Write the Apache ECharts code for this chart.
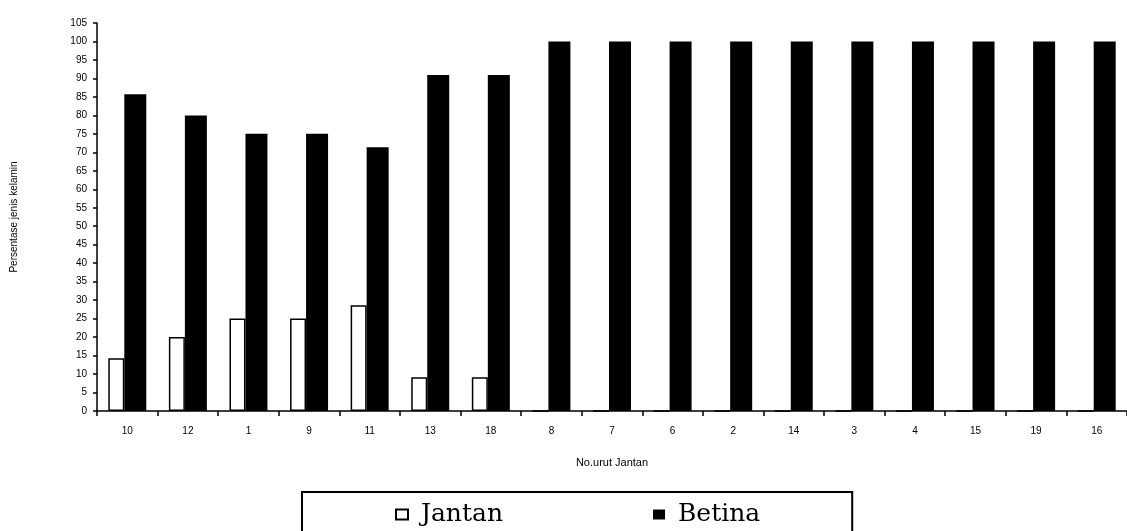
<!DOCTYPE html>
<html>
<head>
<meta charset="utf-8">
<script src="https://cdn.jsdelivr.net/npm/echarts@6/dist/echarts.min.js"></script>
<style>
  html, body { margin: 0; padding: 0; background: #fff; }
  #chart { width: 1127px; height: 531px; }
</style>
</head>
<body>
<div id="chart"></div>
<script>
// No. urut jantan (x axis order as in the figure)
const categories = ["10", "12", "1", "9", "11", "13", "18", "8", "7", "6", "2", "14", "3", "4", "15", "19", "16"];
// percentages
const jantan = [14.3, 20, 25, 25, 28.6, 9.1, 9.1, 0, 0, 0, 0, 0, 0, 0, 0, 0, 0];
const betina = [85.7, 80, 75, 75, 71.4, 90.9, 90.9, 100, 100, 100, 100, 100, 100, 100, 100, 100, 100];
const yMax = 105;
const yStep = 5;

const axisFont = "Liberation Sans";

const option = {
  backgroundColor: "#fff",
  animation: false,
  grid: {
    left: 97,
    right: -4,
    top: 23,
    bottom: 120,
  },
  legend: {
    left: 302,
    top: 492,
    orient: "horizontal",
    padding: [10, 92, 20, 93],
    borderColor: "#000",
    borderWidth: 2,
    itemGap: 150,
    itemWidth: 12,
    itemHeight: 10,
    icon: "rect",
    formatter: (name) => " " + name,
    textStyle: {
      fontFamily: "DejaVu Serif",
      fontSize: 25,
      color: "#000",
    },
    data: ["Jantan", "Betina"],
  },
  xAxis: {
    type: "category",
    data: categories,
    name: "No.urut Jantan",
    nameLocation: "middle",
    nameGap: 46,
    nameTextStyle: { fontFamily: axisFont, fontSize: 11, color: "#000" },
    axisLine: { lineStyle: { color: "#000", width: 1.5 } },
    axisTick: { show: true, length: 5, lineStyle: { color: "#000", width: 1.5 } },
    axisLabel: { fontFamily: axisFont, fontSize: 10, color: "#000", margin: 15 },
    splitLine: { show: false },
  },
  yAxis: {
    type: "value",
    min: 0,
    max: yMax,
    interval: yStep,
    name: "Persentase jenis kelamin",
    nameLocation: "middle",
    nameGap: 78,
    nameTextStyle: { fontFamily: axisFont, fontSize: 10, color: "#000" },
    axisLine: { show: true, lineStyle: { color: "#000", width: 1.5 } },
    axisTick: { show: true, length: 4, lineStyle: { color: "#000", width: 1.5 } },
    axisLabel: { fontFamily: axisFont, fontSize: 10, color: "#000", margin: 10 },
    splitLine: { show: false },
  },
  series: [
    {
      name: "Jantan",
      type: "bar",
      data: jantan,
      barWidth: 16,
      barGap: "0%",
      itemStyle: { color: "#fff", borderColor: "#000", borderWidth: 1.5 },
    },
    {
      name: "Betina",
      type: "bar",
      data: betina,
      barWidth: 22,
      barGap: "0%",
      itemStyle: { color: "#000" },
    },
  ],
};

const myChart = echarts.init(document.getElementById("chart"));
myChart.setOption(option);
</script>
</body>
</html>
